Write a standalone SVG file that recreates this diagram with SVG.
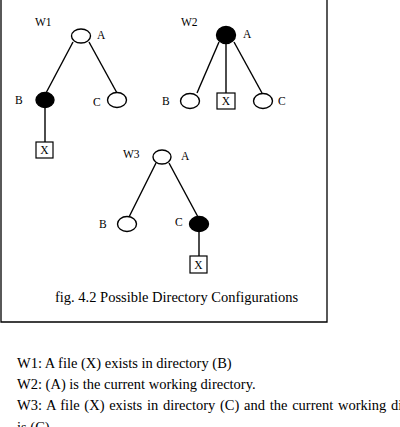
<svg xmlns="http://www.w3.org/2000/svg" width="400" height="427" viewBox="0 0 400 427">
<style>
.lbl{font-family:"Liberation Serif","Times New Roman",serif;font-size:11.5px;fill:#000}
.txt{font-family:"Liberation Serif","Times New Roman",serif;font-size:14.5px;fill:#000}
.open{fill:#fff;stroke:#000;stroke-width:1.4}
.dir{fill:#000;stroke:#000;stroke-width:1.4}
.file{fill:#fff;stroke:#000;stroke-width:1.2}
.edge{stroke:#000;stroke-width:1.4;fill:none}
</style>
<rect width="400" height="427" fill="#fff"/>
<path d="M1,-2 V322 H327 V-2" fill="none" stroke="#000" stroke-width="1.3"/>
<g id="connectors">
<line class="edge" x1="73" y1="42" x2="46" y2="93"/>
<line class="edge" x1="89" y1="42" x2="117" y2="93"/>
<line class="edge" x1="45" y1="107" x2="45" y2="142"/>
<line class="edge" x1="219" y1="42" x2="197" y2="93"/>
<line class="edge" x1="226" y1="43" x2="226" y2="93"/>
<line class="edge" x1="234" y1="42" x2="262" y2="93"/>
<line class="edge" x1="156" y1="163" x2="129" y2="217"/>
<line class="edge" x1="169" y1="163" x2="198" y2="217"/>
<line class="edge" x1="199" y1="231" x2="199" y2="256"/>
</g>
<g id="W1">
<text class="lbl" x="35" y="26">W1</text>
<g id="W1-A"><ellipse class="open" cx="81" cy="36" rx="9.5" ry="7"/><text class="lbl" x="97" y="39">A</text></g>
<g id="W1-B"><ellipse class="dir" cx="45" cy="100" rx="9" ry="7.5"/><text class="lbl" x="15" y="104">B</text></g>
<g id="W1-C"><ellipse class="open" cx="117" cy="100" rx="9.5" ry="7.5"/><text class="lbl" x="93" y="106">C</text></g>
<g id="W1-X"><rect class="file" x="36" y="142" width="17" height="16"/><text class="lbl" x="44.5" y="154" text-anchor="middle">X</text></g>
</g>
<g id="W2">
<text class="lbl" x="181" y="26">W2</text>
<g id="W2-A"><ellipse class="dir" cx="226" cy="35" rx="9.5" ry="8.5"/><text class="lbl" x="243" y="38">A</text></g>
<g id="W2-B"><ellipse class="open" cx="190" cy="101" rx="9.5" ry="7.5"/><text class="lbl" x="162" y="105">B</text></g>
<g id="W2-X"><rect class="file" x="217" y="93" width="18" height="16"/><text class="lbl" x="226" y="105" text-anchor="middle">X</text></g>
<g id="W2-C"><ellipse class="open" cx="263" cy="101" rx="9.5" ry="7.5"/><text class="lbl" x="278" y="105">C</text></g>
</g>
<g id="W3">
<text class="lbl" x="123" y="158">W3</text>
<g id="W3-A"><ellipse class="open" cx="162" cy="157" rx="9" ry="7"/><text class="lbl" x="181" y="160">A</text></g>
<g id="W3-B"><ellipse class="open" cx="127" cy="224" rx="9.5" ry="7.5"/><text class="lbl" x="99" y="228">B</text></g>
<g id="W3-C"><ellipse class="dir" cx="199" cy="224" rx="9.5" ry="7.5"/><text class="lbl" x="175" y="226">C</text></g>
<g id="W3-X"><rect class="file" x="190" y="256" width="17" height="17"/><text class="lbl" x="198.5" y="268.5" text-anchor="middle">X</text></g>
</g>
<text class="txt" x="55" y="302" font-size="14">fig. 4.2 Possible Directory Configurations</text>
<text class="txt" x="17" y="368">W1: A file (X) exists in directory (B)</text>
<text class="txt" x="17" y="389">W2: (A) is the current working directory.</text>
<text class="txt" x="17" y="410" word-spacing="1.1">W3: A file (X) exists in directory (C) and the current working directory</text>
<text class="txt" x="17" y="432">is (C).</text>
</svg>
